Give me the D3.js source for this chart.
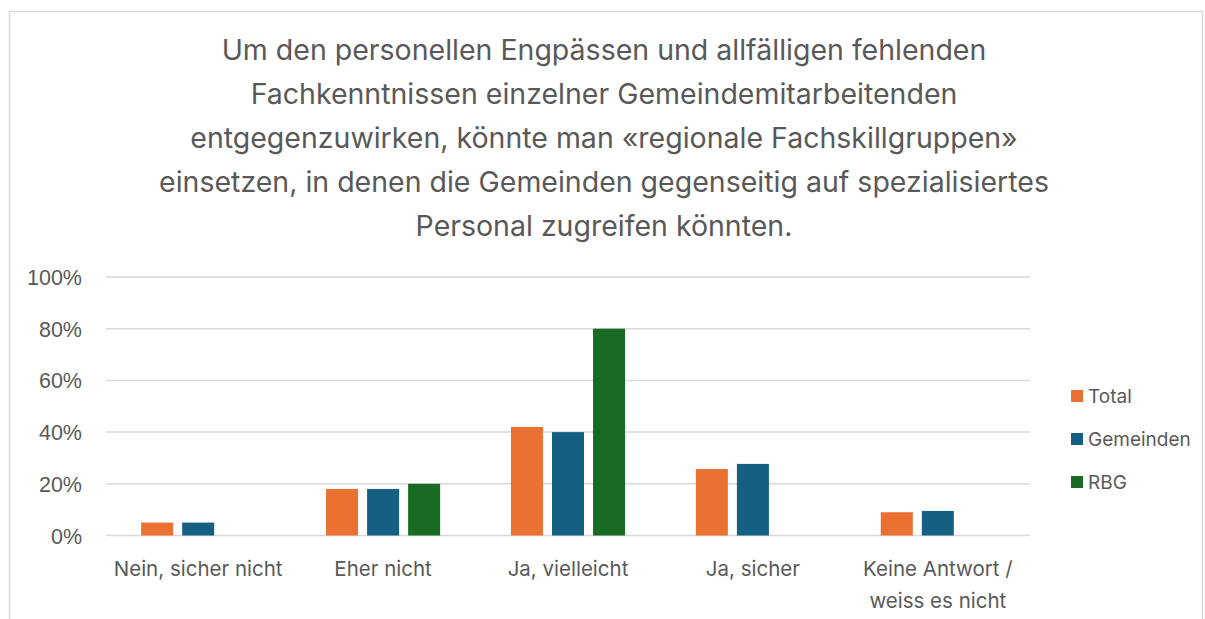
<!DOCTYPE html>
<html>
<head>
<meta charset="utf-8">
<script src="https://cdn.jsdelivr.net/npm/d3@7"></script>
<style>
  html, body { margin: 0; padding: 0; background: #fff; }
  svg { display: block; }
</style>
</head>
<body>
<svg id="chart" width="1205" height="619"></svg>
<script>
const titleLines = [
  "Um den personellen Engpässen und allfälligen fehlenden",
  "Fachkenntnissen einzelner Gemeindemitarbeitenden",
  "entgegenzuwirken, könnte man «regionale Fachskillgruppen»",
  "einsetzen, in denen die Gemeinden gegenseitig auf spezialisiertes",
  "Personal zugreifen könnten."
];
const categories = ["Nein, sicher nicht", "Eher nicht", "Ja, vielleicht", "Ja, sicher", "Keine Antwort / weiss es nicht"];
const categoryLines = [["Nein, sicher nicht"], ["Eher nicht"], ["Ja, vielleicht"], ["Ja, sicher"], ["Keine Antwort /", "weiss es nicht"]];
const seriesNames = ["Total", "Gemeinden", "RBG"];
const totalValues = [0.05, 0.18, 0.42, 0.257, 0.09];
const gemeindenValues = [0.05, 0.18, 0.40, 0.277, 0.095];
const rbgValues = [0, 0.20, 0.80, 0, 0];
const yTicks = [0, 0.2, 0.4, 0.6, 0.8, 1.0];
const colors = ["#E97132", "#156082", "#196B24"];

const seriesValues = [totalValues, gemeindenValues, rbgValues];
const svg = d3.select("#chart");
const textColor = "#595959";
const fontMain = "Inter, 'Open Sans', sans-serif";

// outer border
svg.append("rect")
  .attr("x", 9.5).attr("y", 11.5).attr("width", 1193).attr("height", 640)
  .attr("fill", "#fff").attr("stroke", "#d9d9d9").attr("stroke-width", 1.5);

// title
const title = svg.append("text")
  .attr("text-anchor", "middle")
  .attr("font-family", fontMain)
  .attr("font-size", 28.5)
  .attr("fill", textColor);
titleLines.forEach((l, i) => {
  title.append("tspan").attr("x", 604).attr("y", 60 + i * 44).text(l);
});

const x0 = d3.scaleBand().domain(categories).range([106, 1030]).paddingInner(0.383).paddingOuter(0.19);
const x1 = d3.scaleBand().domain(seriesNames).range([0, x0.bandwidth()]).paddingInner(0.22);
const y = d3.scaleLinear().domain([0, 1]).range([535.5, 277]);

// gridlines
svg.append("g").selectAll("line").data(yTicks).join("line")
  .attr("x1", 106).attr("x2", 1030)
  .attr("y1", d => y(d)).attr("y2", d => y(d))
  .attr("stroke", "#d9d9d9").attr("stroke-width", 1.5);

// y axis labels
const yAxis = d3.axisLeft(y).tickValues(yTicks).tickFormat(d3.format(".0%")).tickSize(0).tickPadding(0);
const yg = svg.append("g").attr("transform", "translate(82,0)").call(yAxis);
yg.select(".domain").remove();
yg.selectAll("text")
  .attr("font-family", "'Liberation Sans', Arial, sans-serif")
  .attr("font-size", 21.5).attr("fill", textColor).attr("dy", "0.35em");

// bars
const groups = svg.append("g").selectAll("g").data(categories).join("g")
  .attr("transform", d => `translate(${x0(d)},0)`);
groups.selectAll("rect")
  .data((d, i) => seriesNames.map((s, j) => ({ s, v: seriesValues[j][i], c: colors[j] })))
  .join("rect")
  .filter(d => d.v > 0)
  .attr("x", d => x1(d.s))
  .attr("width", x1.bandwidth())
  .attr("y", d => y(d.v))
  .attr("height", d => y(0) - y(d.v))
  .attr("fill", d => d.c);

// category labels
categories.forEach((c, i) => {
  const t = svg.append("text")
    .attr("text-anchor", "middle")
    .attr("font-family", fontMain)
    .attr("font-size", 20.5)
    .attr("fill", textColor);
  categoryLines[i].forEach((l, k) => {
    t.append("tspan").attr("x", x0(c) + x0.bandwidth() / 2).attr("y", 576 + k * 32).text(l);
  });
});

// legend
const legend = svg.append("g").selectAll("g").data(seriesNames).join("g")
  .attr("transform", (d, i) => `translate(1071,${396 + i * 43})`);
legend.append("rect").attr("x", 0).attr("y", -6).attr("width", 12).attr("height", 12)
  .attr("fill", (d, i) => colors[i]);
legend.append("text").attr("x", 17).attr("y", 0).attr("dy", "0.35em")
  .attr("font-family", fontMain).attr("font-size", 19).attr("fill", textColor)
  .text(d => d);
</script>
</body>
</html>
